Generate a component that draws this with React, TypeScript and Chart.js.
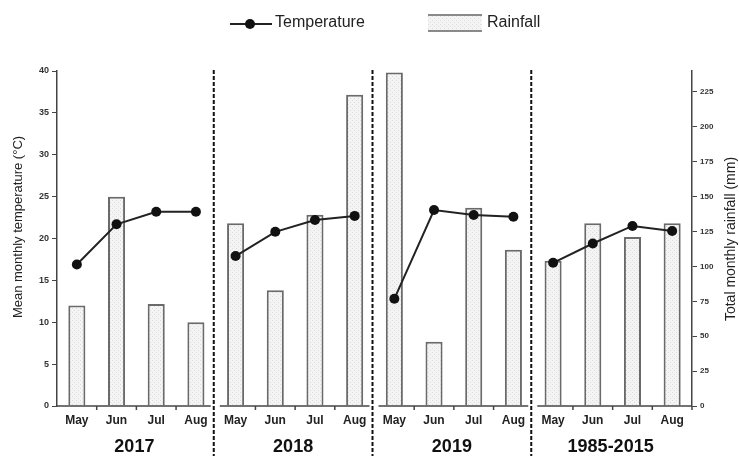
import React, { useEffect, useRef } from 'react';
import { Chart, registerables } from 'chart.js';

Chart.register(...registerables);

const FONT = "'Liberation Sans', Arial, sans-serif";

const periods = ['2017', '2018', '2019', '1985-2015'];
const months = ['May', 'Jun', 'Jul', 'Aug'];

const temp2017 = [16.9, 21.7, 23.2, 23.2];
const temp2018 = [17.9, 20.8, 22.2, 22.7];
const temp2019 = [12.8, 23.4, 22.8, 22.6];
const tempNormal = [17.1, 19.4, 21.5, 20.9];

const rain2017 = [72, 150, 73, 60];
const rain2018 = [131, 83, 137, 223];
const rain2019 = [239, 46, 142, 112];
const rainNormal = [104, 131, 121, 131];

const tempTicks = { min: 0, max: 40, step: 5 };
const rainTicks = { min: 0, max: 240, step: 25 };

const labels = periods.flatMap(() => months);
const temperature = [...temp2017, ...temp2018, ...temp2019, ...tempNormal];
const rainfall = [...rain2017, ...rain2018, ...rain2019, ...rainNormal];

function makePattern(): CanvasPattern | string {
  const c = document.createElement('canvas');
  c.width = 4;
  c.height = 4;
  const g = c.getContext('2d');
  if (!g) return '#efefef';
  g.fillStyle = '#f4f4f4';
  g.fillRect(0, 0, 4, 4);
  g.fillStyle = '#dcdcdc';
  g.fillRect(0, 0, 1, 1);
  g.fillRect(2, 2, 1, 1);
  const p = g.createPattern(c, 'repeat');
  return p || '#efefef';
}

const panelPlugin = {
  id: 'panelPlugin',
  afterDraw(chart: any) {
    const { ctx, chartArea } = chart;
    const xs = chart.scales.x;
    const n = labels.length;
    const per = months.length;
    const bound = (i: number) => {
      if (i <= 0) return chartArea.left;
      if (i >= n) return chartArea.right;
      return (xs.getPixelForValue(i - 1) + xs.getPixelForValue(i)) / 2;
    };
    ctx.save();
    // bottom axis segments
    ctx.strokeStyle = '#444';
    ctx.lineWidth = 1.5;
    const yb = chartArea.bottom;
    for (let p = 0; p < periods.length; p++) {
      const s = bound(p * per) + (p === 0 ? 0 : 4);
      const e = bound((p + 1) * per) - (p === periods.length - 1 ? 0 : 5);
      ctx.beginPath();
      ctx.moveTo(s, yb);
      ctx.lineTo(e, yb);
      ctx.stroke();
      for (let k = 1; k < per; k++) {
        const x = bound(p * per + k);
        ctx.beginPath();
        ctx.moveTo(x, yb);
        ctx.lineTo(x, yb + 4);
        ctx.stroke();
      }
    }
    ctx.beginPath();
    ctx.moveTo(chartArea.right, yb);
    ctx.lineTo(chartArea.right, yb + 4);
    ctx.stroke();

    // dashed separators
    ctx.strokeStyle = '#111';
    ctx.lineWidth = 2;
    ctx.setLineDash([4, 2]);
    for (let p = 1; p < periods.length; p++) {
      const x = bound(p * per) - 2;
      ctx.beginPath();
      ctx.moveTo(x, chartArea.top - 1);
      ctx.lineTo(x, 456);
      ctx.stroke();
    }
    ctx.setLineDash([]);

    // period labels
    ctx.fillStyle = '#111';
    ctx.font = `bold 18px ${FONT}`;
    ctx.textAlign = 'center';
    ctx.textBaseline = 'middle';
    for (let p = 0; p < periods.length; p++) {
      const cx = (bound(p * per) + bound((p + 1) * per)) / 2 - 2;
      ctx.fillText(periods[p], cx, 447);
    }

    // axis titles
    ctx.fillStyle = '#222';
    ctx.font = `13px ${FONT}`;
    ctx.save();
    ctx.translate(18, 227);
    ctx.rotate(-Math.PI / 2);
    ctx.fillText('Mean monthly temperature (°C)', 0, 0);
    ctx.restore();
    ctx.font = `14px ${FONT}`;
    ctx.save();
    ctx.translate(731, 239);
    ctx.rotate(-Math.PI / 2);
    ctx.fillText('Total monthly rainfall (mm)', 0, 0);
    ctx.restore();

    // legend
    ctx.strokeStyle = '#222';
    ctx.lineWidth = 2;
    ctx.beginPath();
    ctx.moveTo(230, 24);
    ctx.lineTo(272, 24);
    ctx.stroke();
    ctx.fillStyle = '#111';
    ctx.beginPath();
    ctx.arc(250, 24, 5, 0, Math.PI * 2);
    ctx.fill();
    ctx.fillStyle = '#222';
    ctx.font = `16px ${FONT}`;
    ctx.textAlign = 'left';
    ctx.textBaseline = 'alphabetic';
    ctx.fillText('Temperature', 275, 27);

    ctx.fillStyle = makePattern();
    ctx.fillRect(428, 15, 54, 16);
    ctx.strokeStyle = '#666';
    ctx.lineWidth = 1.5;
    ctx.beginPath();
    ctx.moveTo(428, 15);
    ctx.lineTo(482, 15);
    ctx.moveTo(428, 31);
    ctx.lineTo(482, 31);
    ctx.stroke();
    ctx.fillStyle = '#222';
    ctx.fillText('Rainfall', 487, 27);
    ctx.restore();
  },
};

export default function App() {
  const ref = useRef<HTMLCanvasElement | null>(null);

  useEffect(() => {
    if (!ref.current) return;
    const pattern = makePattern();
    const chart = new Chart(ref.current, {
      type: 'bar',
      data: {
        labels,
        datasets: [
          {
            type: 'line',
            label: 'Temperature',
            data: temperature,
            yAxisID: 'y',
            order: 0,
            borderColor: '#222',
            borderWidth: 2,
            pointRadius: 5,
            pointBackgroundColor: '#111',
            pointBorderColor: '#111',
            pointBorderWidth: 0,
            tension: 0,
            segment: {
              borderColor: (c: any) =>
                c.p0DataIndex % months.length === months.length - 1 ? 'rgba(0,0,0,0)' : '#222',
            },
          } as any,
          {
            type: 'bar',
            label: 'Rainfall',
            data: rainfall,
            yAxisID: 'y1',
            order: 1,
            backgroundColor: pattern as any,
            borderColor: '#6a6a6a',
            borderWidth: 2,
            barPercentage: 0.43,
            categoryPercentage: 1,
          },
        ],
      },
      options: {
        responsive: false,
        animation: false,
        devicePixelRatio: 1,
        layout: { padding: { top: 71, left: 0, right: 0, bottom: 0 } },
        plugins: {
          legend: { display: false },
          tooltip: { enabled: false },
        },
        scales: {
          x: {
            offset: true,
            grid: { display: false, drawTicks: false },
            border: { display: false },
            ticks: {
              color: '#222',
              font: { family: FONT, size: 12, weight: 'bold' },
              padding: 7,
              maxRotation: 0,
              autoSkip: false,
            },
            afterFit: (s: any) => {
              s.height = 50;
            },
          },
          y: {
            position: 'left',
            min: tempTicks.min,
            max: tempTicks.max,
            grid: { drawOnChartArea: false, color: '#444', tickLength: 5, lineWidth: 1 },
            border: { display: true, color: '#444', width: 1.5 },
            ticks: {
              stepSize: tempTicks.step,
              color: '#333',
              font: { family: FONT, size: 9, weight: 'bold' },
              padding: 3,
            },
            afterFit: (s: any) => {
              s.width = 57;
            },
          },
          y1: {
            position: 'right',
            min: rainTicks.min,
            max: rainTicks.max,
            grid: { drawOnChartArea: false, color: '#444', tickLength: 5, lineWidth: 1 },
            border: { display: true, color: '#444', width: 1.5 },
            ticks: {
              stepSize: rainTicks.step,
              includeBounds: false,
              color: '#333',
              font: { family: FONT, size: 8, weight: 'bold' },
              padding: 3,
            },
            afterFit: (s: any) => {
              s.width = 47;
            },
          },
        },
      },
      plugins: [panelPlugin],
    } as any);
    return () => chart.destroy();
  }, []);

  return (
    <div style={{ position: 'absolute', left: 0, top: 0, width: 739, height: 456, background: '#fff' }}>
      <canvas ref={ref} width={739} height={456} style={{ width: 739, height: 456, display: 'block' }} />
    </div>
  );
}
